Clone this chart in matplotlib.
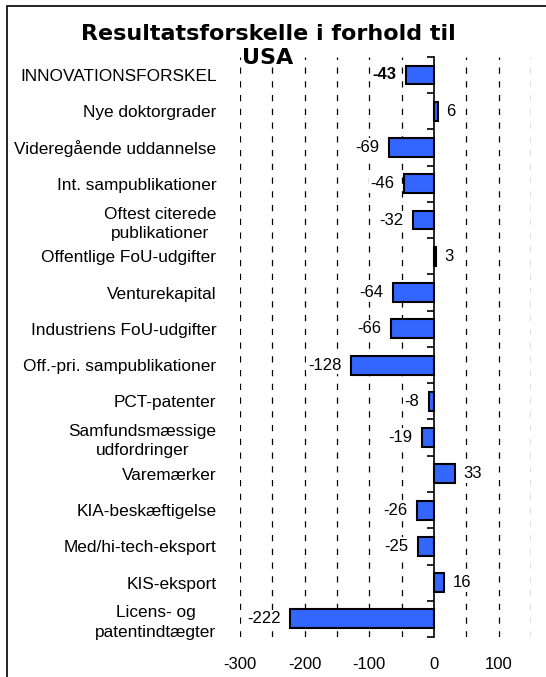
import numpy as np
import matplotlib
matplotlib.use("Agg")
import matplotlib.pyplot as plt
from matplotlib.patches import Rectangle

# Categories (top to bottom) and values
labels = ['INNOVATIONSFORSKEL', 'Nye doktorgrader', 'Videregående uddannelse',
          'Int. sampublikationer', 'Oftest citerede\npublikationer',
          'Offentlige FoU-udgifter', 'Venturekapital', 'Industriens FoU-udgifter',
          'Off.-pri. sampublikationer', 'PCT-patenter',
          'Samfundsmæssige\nudfordringer', 'Varemærker', 'KIA-beskæftigelse',
          'Med/hi-tech-eksport', 'KIS-eksport', 'Licens- og\npatentindtægter']
values = [-43, 6, -69, -46, -32, 3, -64, -66, -128, -8, -19, 33, -26, -25, 16, -222]

xticks = [-300, -200, -100, 0, 100]
xlim = [-300, 150]
title = 'Resultatsforskelle i forhold til\nUSA'

fig = plt.figure(figsize=(5.46, 6.77), dpi=100)
ax = fig.add_axes([0.4396, 0.059, 0.533, 0.857])

y = np.arange(len(values))
ax.barh(y, values, height=0.52, color='#3366FF', edgecolor='black', linewidth=1.5, zorder=3)
ax.set_ylim(len(values) - 0.5, -0.5)
ax.set_xlim(xlim)

# dashed vertical grid every 50
for gx in np.arange(xlim[0], xlim[1] + 1, 50):
    if gx != 0:
        ax.axvline(gx, color='black', lw=0.9, ls=(0, (5, 6)), zorder=1)

for s in ax.spines.values():
    s.set_visible(False)
ax.set_xticks(xticks)
ax.set_xticklabels([str(t) for t in xticks], fontsize=12, family='Liberation Sans')
ax.tick_params(axis='x', length=0, pad=14)
ax.set_yticks(y)
ax.set_yticklabels(labels, fontsize=12.4, family='Liberation Sans',
                   multialignment='center', linespacing=1.35)
ax.tick_params(axis='y', length=0, pad=17)

# y axis line at zero with ticks between categories
ax2 = ax.twinx()
ax2.set_ylim(ax.get_ylim())
for s in ['top', 'right', 'bottom']:
    ax2.spines[s].set_visible(False)
ax2.spines['left'].set_position(('data', 0))
ax2.spines['left'].set_linewidth(1.2)
ax2.yaxis.set_ticks_position('left')
ax2.set_yticks(np.arange(len(values) + 1) - 0.5)
ax2.set_yticklabels([])
ax2.tick_params(axis='y', direction='out', length=5, width=1.2)

# value labels
for i, v in enumerate(values):
    w = 'bold' if i == 0 else 'normal'
    off, ha = (-7, 'right') if v < 0 else (6, 'left')
    ax.annotate(str(v), (v, i), xytext=(off, 0), textcoords='offset points',
                ha=ha, va='center', fontsize=12, family='Liberation Sans', fontweight=w,
                bbox=dict(boxstyle='square,pad=0.1', fc='white', ec='none'), zorder=4)

fig.text(268 / 546, 1 - 46 / 677, title, ha='center', va='center', fontsize=16,
         fontweight='bold', family='DejaVu Sans', linespacing=1.3, zorder=10)

# outer frame (only top and left visible in the reference)
fig.patches.append(Rectangle((7 / 546, -0.1), 1.2, 1 - 6 / 677 + 0.1, transform=fig.transFigure,
                             fill=False, edgecolor='black', lw=1.2))

fig.savefig('out.png', dpi=100)
